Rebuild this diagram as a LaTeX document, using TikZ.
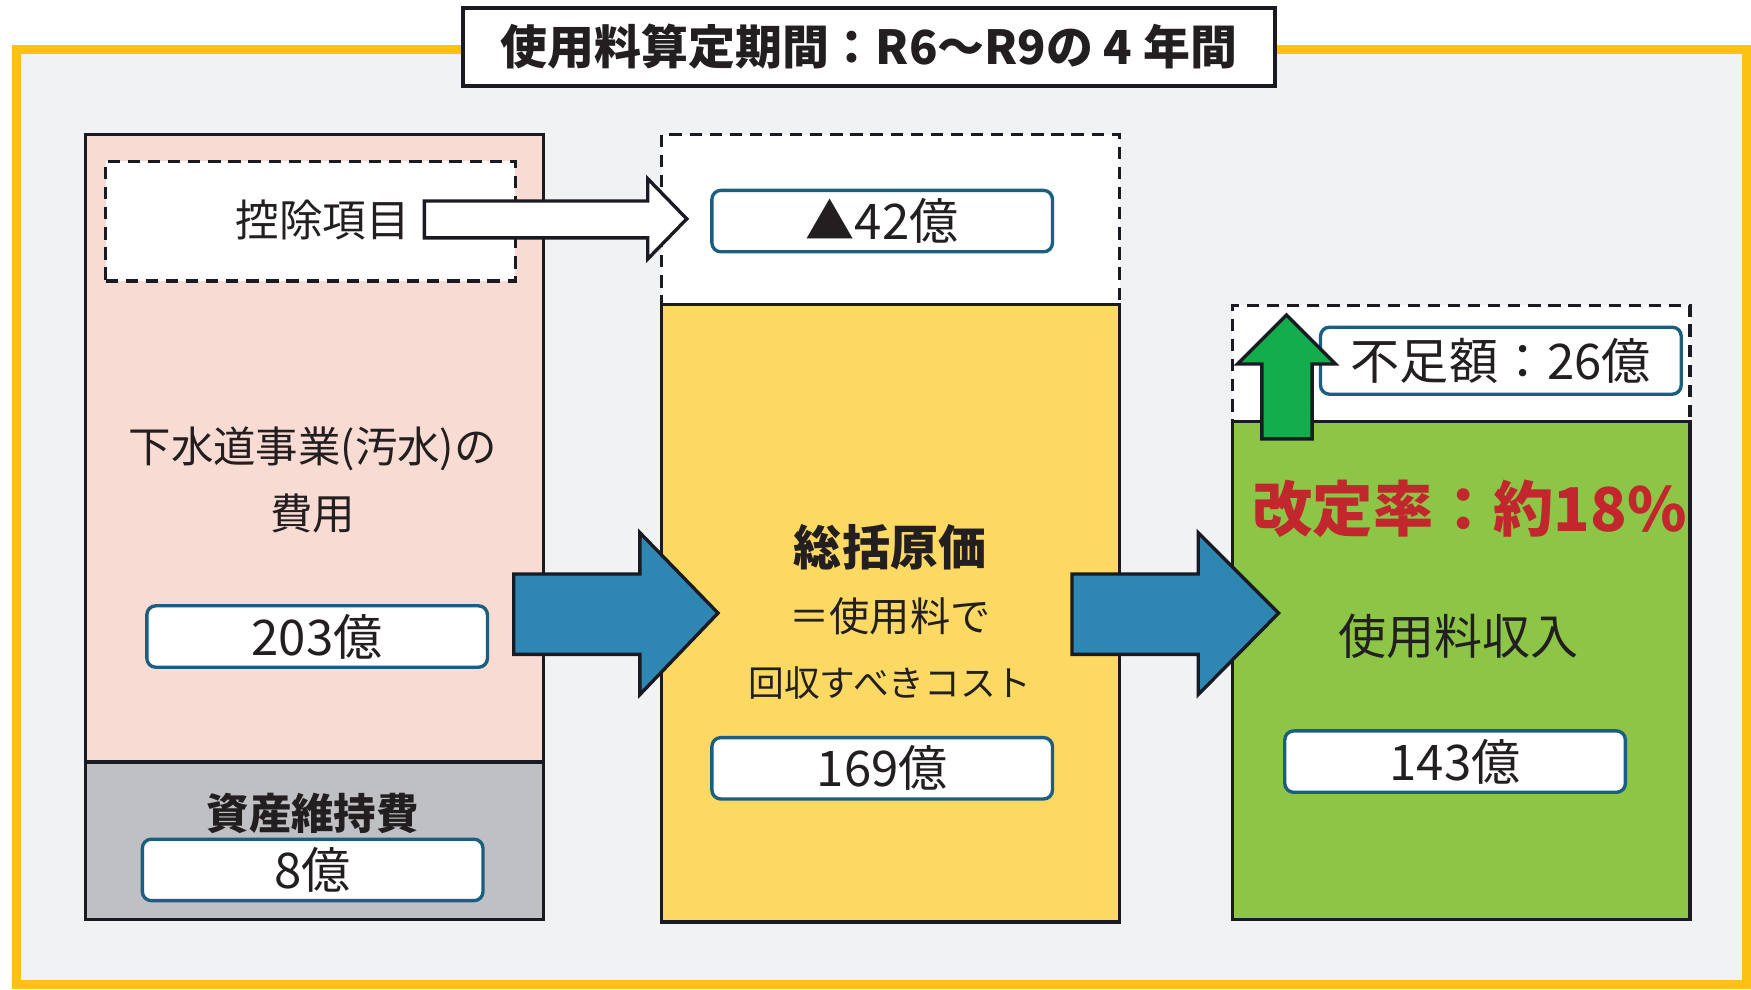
\documentclass[tikz,border=0pt]{standalone}
\usepackage{fontspec}
\setmainfont{Noto Sans CJK JP}
\usetikzlibrary{positioning}
\definecolor{frameY}{HTML}{FAC314}
\definecolor{bgG}{HTML}{F1F2F4}
\definecolor{pinkF}{HTML}{F8DBD3}
\definecolor{grayF}{HTML}{BFC0C3}
\definecolor{yelF}{HTML}{FBD962}
\definecolor{greenF}{HTML}{8DC646}
\definecolor{blueA}{HTML}{2E86B2}
\definecolor{greenA}{HTML}{14AD4B}
\definecolor{boxB}{HTML}{1B5E7F}
\definecolor{redT}{HTML}{C1272D}
\definecolor{inkD}{HTML}{1A1A22}
\definecolor{txt}{HTML}{231F20}
\tikzset{
  col/.style={draw=inkD, line width=3pt, anchor=north west, inner sep=0pt},
  dashbox/.style={draw=inkD, line width=3pt, dash pattern=on 11pt off 7pt, fill=white, anchor=north west, inner sep=0pt},
  valbox/.style={draw=boxB, line width=3pt, rounded corners=8pt, fill=white, minimum width=305pt, minimum height=55pt, inner sep=0pt, text=txt, font=\fontsize{44}{46}\selectfont},
  lbl/.style={text=txt, inner sep=0pt, font=\fontsize{38}{40}\selectfont},
  blbl/.style={text=txt, inner sep=0pt, font=\fontsize{38}{40}\selectfont\bfseries},
  blockarrow/.style={draw=inkD, line width=3pt, fill=blueA, line join=miter},
}
\begin{document}
\begin{tikzpicture}[x=1pt,y=-1pt]
\useasboundingbox (0,0) rectangle (1568,886);
\fill[white] (0,0) rectangle (1568,886);
% frame
\draw[draw=frameY, fill=bgG, line width=8pt] (15,44) rectangle (1564,882);
% title
\node[draw=inkD, line width=4pt, fill=white, minimum width=727pt, minimum height=70pt, inner sep=0pt,
      text=txt, font=\fontsize{42}{44}\selectfont\bfseries] (title) at (778,42) {使用料算定期間：R6～R9の 4 年間};

% left column
\node[col, fill=pinkF, minimum width=410pt, minimum height=562pt] (pink) at (75,119) {};
\node[col, fill=grayF, minimum width=410pt, minimum height=141pt] (gray) at (75,681) {};
\node[dashbox, minimum width=367pt, minimum height=107pt] (koj) at (93,143) {};
\node[lbl, font=\fontsize{39}{40}\selectfont] (kojt) at (289,197) {控除項目};
\node[lbl] (cost1) at (280,402) {下水道事業(汚水)の};
\node[lbl] (cost2) at (280,460) {費用};
\node[valbox] (v203) at (284,570) {203億};
\node[blbl] (shisan) at (280,728) {資産維持費};
\node[valbox] (v8) at (280,779) {8億};

% middle column
\node[dashbox, minimum width=410pt, minimum height=152pt] (midtop) at (591,119) {};
\node[col, fill=yelF, minimum width=410pt, minimum height=553pt] (mid) at (591,271) {};
\node[valbox] (v42) at (790,198) {▲42億};
\node[blbl, font=\fontsize{43}{46}\selectfont\bfseries] (sou) at (797,490) {総括原価};
\node[lbl, font=\fontsize{36}{40}\selectfont] (eq) at (797,552) {＝使用料で};
\node[lbl, font=\fontsize{32}{40}\selectfont] (kaishu) at (797,612) {回収すべきコスト};
\node[valbox] (v169) at (790,688) {169億};

% right column
\node[dashbox, minimum width=410pt, minimum height=104pt] (rtop) at (1102,272) {};
\node[col, fill=greenF, minimum width=410pt, minimum height=446pt] (rgt) at (1102,376) {};
\node[valbox, minimum width=323pt, minimum height=60pt] (fusoku) at (1344,323) {不足額：26億};
\node[inner sep=0pt, text=redT, font=\fontsize{54}{56}\selectfont\bfseries] (rate) at (1316,456) {改定率：約18\%};
\node[lbl, font=\fontsize{43}{46}\selectfont] (shunyu) at (1306,570) {使用料収入};
\node[valbox] (v143) at (1303,682) {143億};

% hollow arrow (控除項目 -> ▲42億)
\draw[draw=inkD, line width=3pt, fill=white, line join=miter]
  (380,180) -- (580,180) -- (580,160) -- (615,196) -- (580,232) -- (580,213) -- (380,213) -- cycle;

% blue block arrows
\draw[blockarrow] (460,514) -- (573,514) -- (573,477) -- (643,549) -- (573,622) -- (573,586) -- (460,586) -- cycle;
\draw[blockarrow] (960,514) -- (1073,514) -- (1073,477) -- (1145,549) -- (1073,622) -- (1073,586) -- (960,586) -- cycle;

% green up arrow
\draw[draw=inkD, line width=3pt, fill=greenA, line join=miter]
  (1130,393) -- (1175,393) -- (1175,326) -- (1196,326) -- (1152,282) -- (1108,326) -- (1130,326) -- cycle;
\end{tikzpicture}
\end{document}
